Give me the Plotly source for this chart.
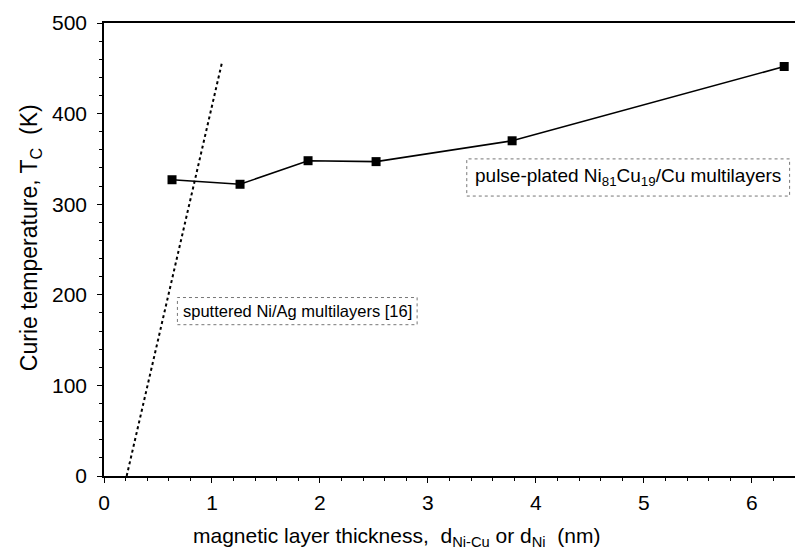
import plotly.graph_objects as go

# Pulse-plated Ni81Cu19/Cu multilayers: Curie temperature vs magnetic layer thickness
thickness_nm = [0.63, 1.26, 1.89, 2.52, 3.78, 6.30]
curie_temp_K = [327, 322, 348, 347, 370, 452]

# Sputtered Ni/Ag multilayers [16]: linear trend
sputtered_thickness_nm = [0.21, 1.09]
sputtered_temp_K = [0, 455]

x_ticks = [0, 1, 2, 3, 4, 5, 6]
y_ticks = [0, 100, 200, 300, 400, 500]

FONT = "Arial, Liberation Sans, sans-serif"

fig = go.Figure()

fig.add_trace(go.Scatter(
    x=sputtered_thickness_nm, y=sputtered_temp_K, mode="lines",
    line=dict(color="black", width=2, dash="dot"),
    showlegend=False, hoverinfo="skip",
))

fig.add_trace(go.Scatter(
    x=thickness_nm, y=curie_temp_K, mode="lines+markers",
    line=dict(color="black", width=1.6),
    marker=dict(symbol="square", size=9, color="black"),
    showlegend=False,
))

# Label boxes with dotted borders
fig.add_shape(type="rect", xref="x", yref="y", x0=3.36, x1=6.35, y0=309, y1=350,
              line=dict(color="#777", width=1, dash="dot"), fillcolor="white", layer="below")
fig.add_annotation(x=4.855, y=329.5, xref="x", yref="y", showarrow=False,
                   text="pulse-plated Ni<sub>81</sub>Cu<sub>19</sub>/Cu multilayers",
                   font=dict(family=FONT, size=19, color="black"))

fig.add_shape(type="rect", xref="x", yref="y", x0=0.68, x1=2.90, y0=167, y1=197,
              line=dict(color="#777", width=1, dash="dot"), fillcolor="white", layer="below")
fig.add_annotation(x=1.79, y=182, xref="x", yref="y", showarrow=False,
                   text="sputtered Ni/Ag multilayers [16]",
                   font=dict(family=FONT, size=16.5, color="black"))

# Axis titles
fig.add_annotation(
    x=0.424, y=0, xref="paper", yref="paper", yanchor="middle", showarrow=False,
    text="magnetic layer thickness,&nbsp;&nbsp;d<sub>Ni-Cu</sub> or d<sub>Ni</sub>&nbsp;&nbsp;(nm)",
    font=dict(family=FONT, size=21, color="black"), yshift=-61)
fig.add_annotation(
    x=0, y=0.525, xref="paper", yref="paper", xanchor="center", showarrow=False,
    textangle=-90, xshift=-74,
    text="Curie temperature, T<sub>C</sub>&nbsp;&nbsp;(K)",
    font=dict(family=FONT, size=23, color="black"))

fig.update_layout(
    width=795, height=556,
    margin=dict(l=104, r=0, t=23, b=80),
    paper_bgcolor="white", plot_bgcolor="white",
    font=dict(family=FONT, color="black"),
    xaxis=dict(
        range=[0, 6.4], tickvals=x_ticks,
        ticks="outside", ticklen=5, tickwidth=1, tickcolor="black",
        minor=dict(dtick=0.2, ticks="outside", ticklen=3, tickcolor="black"),
        showline=True, linecolor="black", linewidth=1.5, mirror=True,
        showgrid=False, zeroline=False,
        tickfont=dict(size=21), ticklabelstandoff=2,
    ),
    yaxis=dict(
        range=[0, 500], tickvals=y_ticks,
        ticks="outside", ticklen=5, tickwidth=1, tickcolor="black",
        minor=dict(dtick=20, ticks="outside", ticklen=3, tickcolor="black"),
        showline=True, linecolor="black", linewidth=1.5,
        showgrid=False, zeroline=False,
        tickfont=dict(size=21), ticklabelstandoff=6,
    ),
)

fig.write_html("out.html")
